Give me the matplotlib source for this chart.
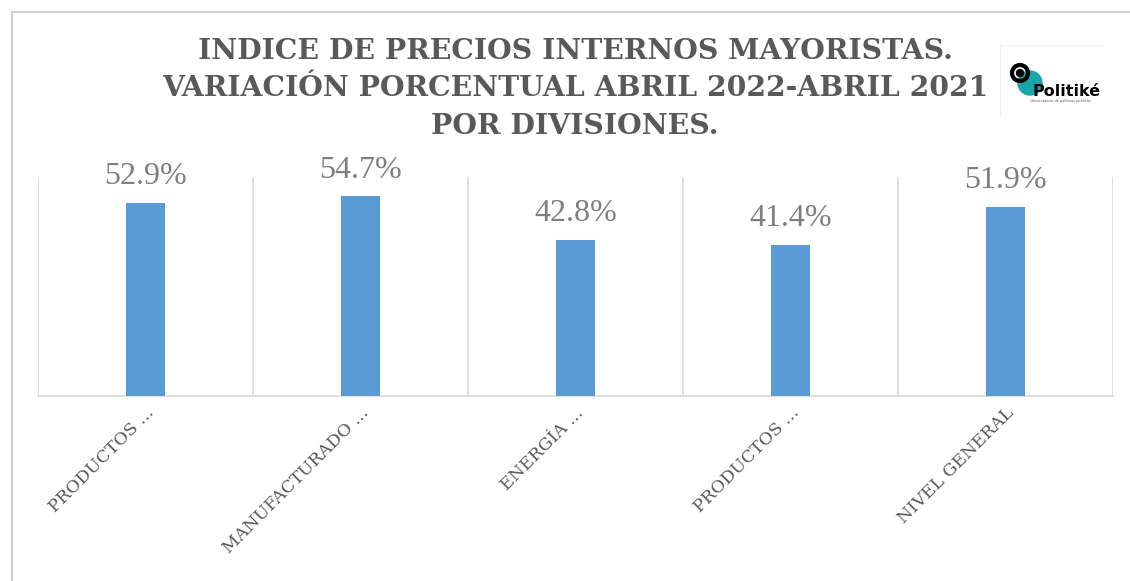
import matplotlib.pyplot as plt
from matplotlib.patches import Circle, Rectangle

categorias = ["PRODUCTOS ...", "MANUFACTURADO ...", "ENERGÍA ...", "PRODUCTOS ...", "NIVEL GENERAL"]
variacion = [52.9, 54.7, 42.8, 41.4, 51.9]
etiquetas = ["52.9%", "54.7%", "42.8%", "41.4%", "51.9%"]
titulo = "INDICE DE PRECIOS INTERNOS MAYORISTAS.\nVARIACIÓN PORCENTUAL ABRIL 2022-ABRIL 2021\nPOR DIVISIONES."

plt.rcParams['font.family'] = ['Liberation Serif', 'DejaVu Serif']

fig = plt.figure(figsize=(11.3, 5.81), dpi=100)
W, H = 1130, 581
ax = fig.add_axes([38 / W, 1 - 396 / H, (1113 - 38) / W, (396 - 177) / H])

x = list(range(len(categorias)))
ax.bar(x, variacion, width=0.186, color="#5b9bd5", zorder=3)
for xi, v, t in zip(x, variacion, etiquetas):
    ax.text(xi, v + 3.2, t, ha="center", va="bottom", fontsize=23, color="#7f7f7f")

ax.set_xlim(-0.5, len(categorias) - 0.5)
ax.set_ylim(0, 60)
ax.set_yticks([])
ax.set_xticks(x)
ax.set_xticklabels(categorias, rotation=45, ha="right", rotation_mode="anchor",
                   fontsize=12.5, color="#595959", family="DejaVu Serif")
ax.tick_params(axis="x", length=0, pad=6)
ax.set_xticks([i - 0.5 for i in range(len(categorias) + 1)], minor=True)
ax.tick_params(axis="x", which="minor", length=0)
ax.grid(axis="x", which="minor", color="#d9d9d9", linewidth=1.2)
for s in ["top", "left", "right"]:
    ax.spines[s].set_visible(False)
ax.spines["bottom"].set_color("#d9d9d9")
ax.spines["bottom"].set_linewidth(1.2)

fig.text(575 / W, 1 - 38 / H, titulo, ha="center", va="top", fontsize=20.3,
         fontweight="bold", color="#595959", linespacing=1.5, family="DejaVu Serif")

# marco exterior
fig.add_artist(plt.Line2D([12 / W, 12 / W], [0, 1 - 12 / H], color="#d0d0d0", lw=1.5))
fig.add_artist(plt.Line2D([12 / W, 1], [1 - 12 / H, 1 - 12 / H], color="#d0d0d0", lw=1.5))

# logo
lax = fig.add_axes([1000 / W, 1 - 117 / H, 103 / W, 72 / H])
lax.set_xlim(0, 103)
lax.set_ylim(72, 0)
lax.axis("off")
lax.add_patch(Rectangle((0, 0), 103, 72, facecolor="white", edgecolor="#f0f0f0", lw=0.8))
lax.add_patch(Circle((30, 38), 12, color="#1aa6a6"))
lax.add_patch(Circle((20, 28), 8, facecolor="none", edgecolor="black", lw=3))
lax.add_patch(Circle((20, 28), 3.5, color="black"))
lax.text(33, 47, "Politiké", fontsize=11.5, fontweight="bold", family="DejaVu Sans", color="black", va="center")
lax.text(30, 56, "Observatorio de políticas públicas", fontsize=2.5, family="DejaVu Sans", color="#555555", va="center")

fig.savefig("out.png", dpi=100)
